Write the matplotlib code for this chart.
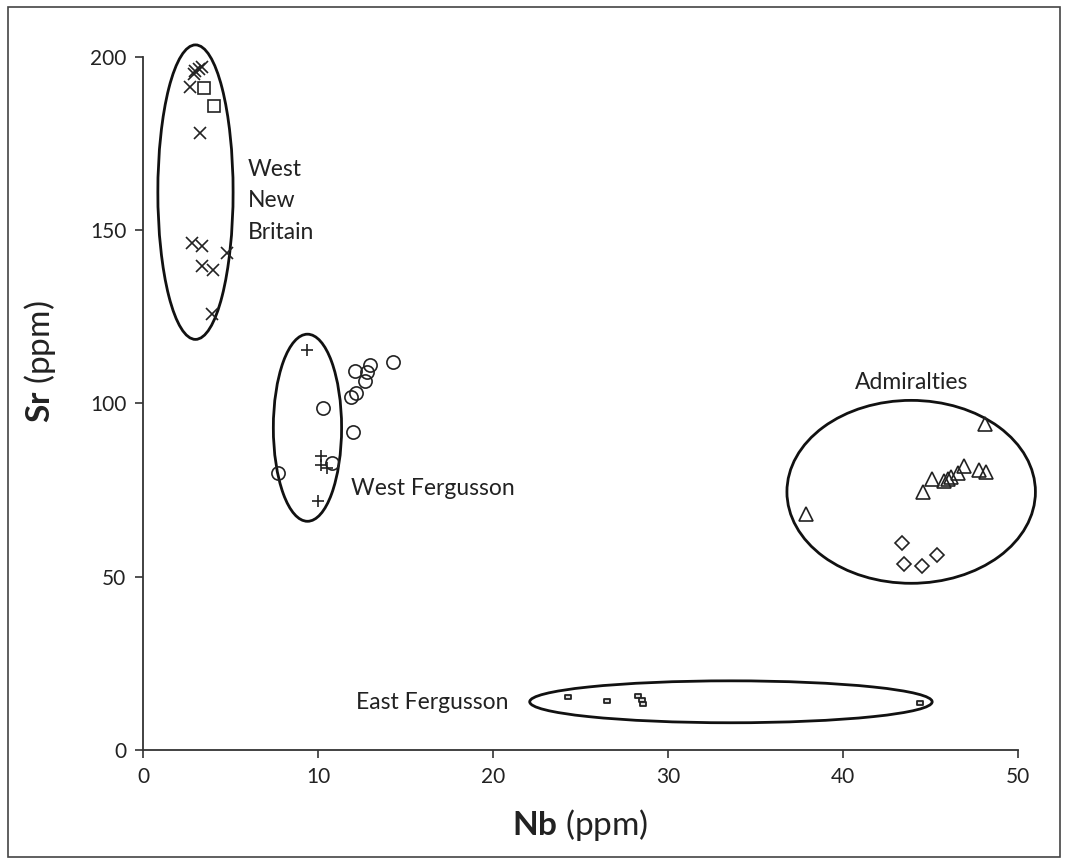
import matplotlib
matplotlib.use("Agg")
import matplotlib.pyplot as plt
from matplotlib.patches import Ellipse, Rectangle
from matplotlib.path import Path
import numpy as np

plt.rcParams['font.family'] = ['Lato', 'DejaVu Sans']
plt.rcParams['mathtext.fontset'] = 'custom'
plt.rcParams['mathtext.rm'] = 'Lato'
plt.rcParams['mathtext.bf'] = 'Lato:bold'

# West New Britain (crosses and squares)
wnb_x_nb = [3.0, 3.2, 3.4, 2.9, 2.7, 3.26, 2.8, 3.37, 4.8, 3.4, 4.0, 3.94]
wnb_x_sr = [196.0, 196.5, 197.0, 195.0, 191.3, 178.0, 146.3, 145.5, 143.4, 139.7, 138.5, 125.8]
wnb_s_nb = [3.5, 4.06]
wnb_s_sr = [191.0, 186.0]

# West Fergusson (plus signs and circles)
wf_p_nb = [9.37, 10.2, 10.2, 10.5, 10.0]
wf_p_sr = [115.4, 84.8, 82.3, 81.4, 71.9]
wf_o_nb = [10.3, 10.8, 7.7, 12.1, 13.0, 12.8, 12.7, 12.2, 11.9, 12.0, 14.3]
wf_o_sr = [98.7, 82.8, 79.9, 109.4, 111.0, 109.1, 106.5, 103.0, 101.9, 91.8, 112.0]

# Admiralties (triangles and diamonds)
adm_t_nb = [48.1, 46.9, 47.8, 48.2, 46.6, 46.2, 46.0, 45.8, 45.1, 44.6, 37.9]
adm_t_sr = [94.1, 82.0, 80.8, 80.3, 79.9, 78.8, 78.2, 77.6, 78.2, 74.5, 68.1]
adm_d_nb = [43.4, 45.4, 43.5, 44.5]
adm_d_sr = [59.7, 56.3, 53.7, 53.1]

# East Fergusson (small bars)
ef_nb = [24.3, 26.5, 28.3, 28.5, 28.6, 44.4]
ef_sr = [15.3, 14.1, 15.6, 14.4, 13.3, 13.6]

# group ellipses: centre (Nb, Sr), width, height
ell_centres = [(3.0, 161.0), (9.4, 93.0), (43.9, 74.5), (33.6, 13.9)]
ell_widths = [4.3, 3.9, 14.2, 23.0]
ell_heights = [85.0, 54.0, 52.8, 12.1]

# group labels
labels = ["West\nNew\nBritain", "West Fergusson", "Admiralties", "East Fergusson"]
label_pos = [(6.0, 158.5), (11.9, 75.5), (43.9, 106.0), (12.2, 13.6)]
label_ha = ["left", "left", "center", "left"]


def main():
	fig = plt.figure(figsize=(10.67, 8.64), dpi=100)
	ax = fig.add_axes([0.134, 0.132, 0.820, 0.802])

	kw = dict(linestyle="none", color="#222222", markerfacecolor="none", markeredgewidth=1.2)
	ax.plot(wnb_x_nb, wnb_x_sr, marker="x", markersize=8.5, clip_on=False, **kw)
	ax.plot(wnb_s_nb, wnb_s_sr, marker="s", markersize=8.5, **kw)
	ax.plot(wf_p_nb, wf_p_sr, marker="+", markersize=8.5, **kw)
	ax.plot(wf_o_nb, wf_o_sr, marker="o", markersize=9.5, **kw)
	ax.plot(adm_t_nb, adm_t_sr, marker="^", markersize=10, **kw)
	ax.plot(adm_d_nb, adm_d_sr, marker="D", markersize=7, **kw)
	bar = Path([(-1, -0.5), (1, -0.5), (1, 0.5), (-1, 0.5), (-1, -0.5)],
		[Path.MOVETO, Path.LINETO, Path.LINETO, Path.LINETO, Path.CLOSEPOLY])
	ax.plot(ef_nb, ef_sr, marker=bar, markersize=5, linestyle="none",
		color="#222222", markerfacecolor="#dddddd", markeredgewidth=1.3)

	for c, w, h in zip(ell_centres, ell_widths, ell_heights):
		ax.add_patch(Ellipse(c, w, h, fill=False, edgecolor="#111111", linewidth=2, clip_on=False))

	for t, p, ha in zip(labels, label_pos, label_ha):
		ax.text(p[0], p[1], t, ha=ha, va="center", fontsize=16.5, color="#222222", linespacing=1.6)

	ax.set_xlim(0, 50)
	ax.set_ylim(0, 200)
	ax.set_xticks(np.arange(0, 51, 10))
	ax.set_yticks(np.arange(0, 201, 50))
	for s in ["top", "right"]:
		ax.spines[s].set_visible(False)
	for s in ["left", "bottom"]:
		ax.spines[s].set_color("#333333")
		ax.spines[s].set_linewidth(1.3)
	ax.tick_params(labelsize=15, length=6, width=1.2, colors="#333333", pad=6)
	for lab in ax.get_xticklabels() + ax.get_yticklabels():
		lab.set_color("#222222")

	ax.set_xlabel(r"$\mathbf{Nb}$ (ppm)", fontsize=24, color="#222222")
	ax.set_ylabel(r"$\mathbf{Sr}$ (ppm)", fontsize=24, color="#222222")
	ax.xaxis.set_label_coords(0.5, -0.082)
	ax.yaxis.set_label_coords(-0.097, 0.56)

	fig.patches.append(Rectangle((0.0075, 0.008), 0.9855, 0.984, transform=fig.transFigure,
		fill=False, edgecolor="#444444", linewidth=1.2))

	fig.savefig("out.png", dpi=100)


if __name__ == '__main__':
	main()
